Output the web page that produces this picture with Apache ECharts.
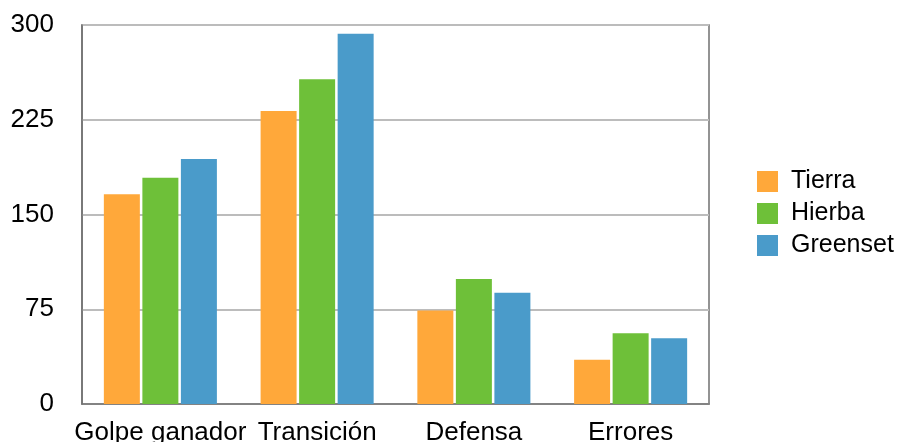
<!DOCTYPE html>
<html>
<head>
<meta charset="utf-8">
<script src="https://cdn.jsdelivr.net/npm/echarts@6/dist/echarts.min.js"></script>
<style>
  html, body { margin: 0; padding: 0; background: #fff; }
  #chart { width: 902px; height: 442px; }
</style>
</head>
<body>
<div id="chart"></div>
<script>
// Categories and values per surface
const categories = ['Golpe ganador', 'Transición', 'Defensa', 'Errores'];
const seriesNames = ['Tierra', 'Hierba', 'Greenset'];
const tierra = [166, 232, 74, 35];
const hierba = [179, 257, 99, 56];
const greenset = [194, 293, 88, 52];
const colors = ['#FFA83A', '#6EC039', '#4A9BCA'];

const font = '"Liberation Sans", Arial, Helvetica, sans-serif';
const chart = echarts.init(document.getElementById('chart'), null, { renderer: 'canvas' });

const dataSets = [tierra, hierba, greenset];
const series = seriesNames.map((name, i) => ({
  name: name,
  type: 'bar',
  data: dataSets[i],
  barWidth: 36,
  barGap: '7%',
  itemStyle: { color: colors[i] },
  animation: false
}));

chart.setOption({
  animation: false,
  textStyle: { fontFamily: font },
  grid: {
    left: 82, right: 193, top: 25, bottom: 38,
    show: true, borderColor: '#707070', borderWidth: 1.5,
    containLabel: false,
    outerBoundsMode: 'none'
  },
  legend: {
    orient: 'vertical',
    left: 752, top: 164,
    itemWidth: 21, itemHeight: 21, itemGap: 7,
    icon: 'rect',
    textStyle: { fontSize: 25, lineHeight: 25, color: '#000', fontFamily: font, padding: [0, 0, 0, 8] },
    data: seriesNames
  },
  xAxis: {
    type: 'category',
    data: categories,
    axisLine: { show: true, lineStyle: { color: '#707070', width: 1.5 } },
    axisTick: { show: false },
    axisLabel: { color: '#000', fontSize: 26, margin: 16, fontFamily: font, interval: 0 },
    splitLine: { show: false }
  },
  yAxis: {
    type: 'value',
    min: 0, max: 300, interval: 75,
    axisLine: { show: true, lineStyle: { color: '#707070', width: 1.5 } },
    axisTick: { show: false },
    axisLabel: { color: '#000', fontSize: 26, margin: 28, fontFamily: font },
    splitLine: { show: true, lineStyle: { color: '#BCBCBC', width: 2 } }
  },
  series: series
});
</script>
</body>
</html>
